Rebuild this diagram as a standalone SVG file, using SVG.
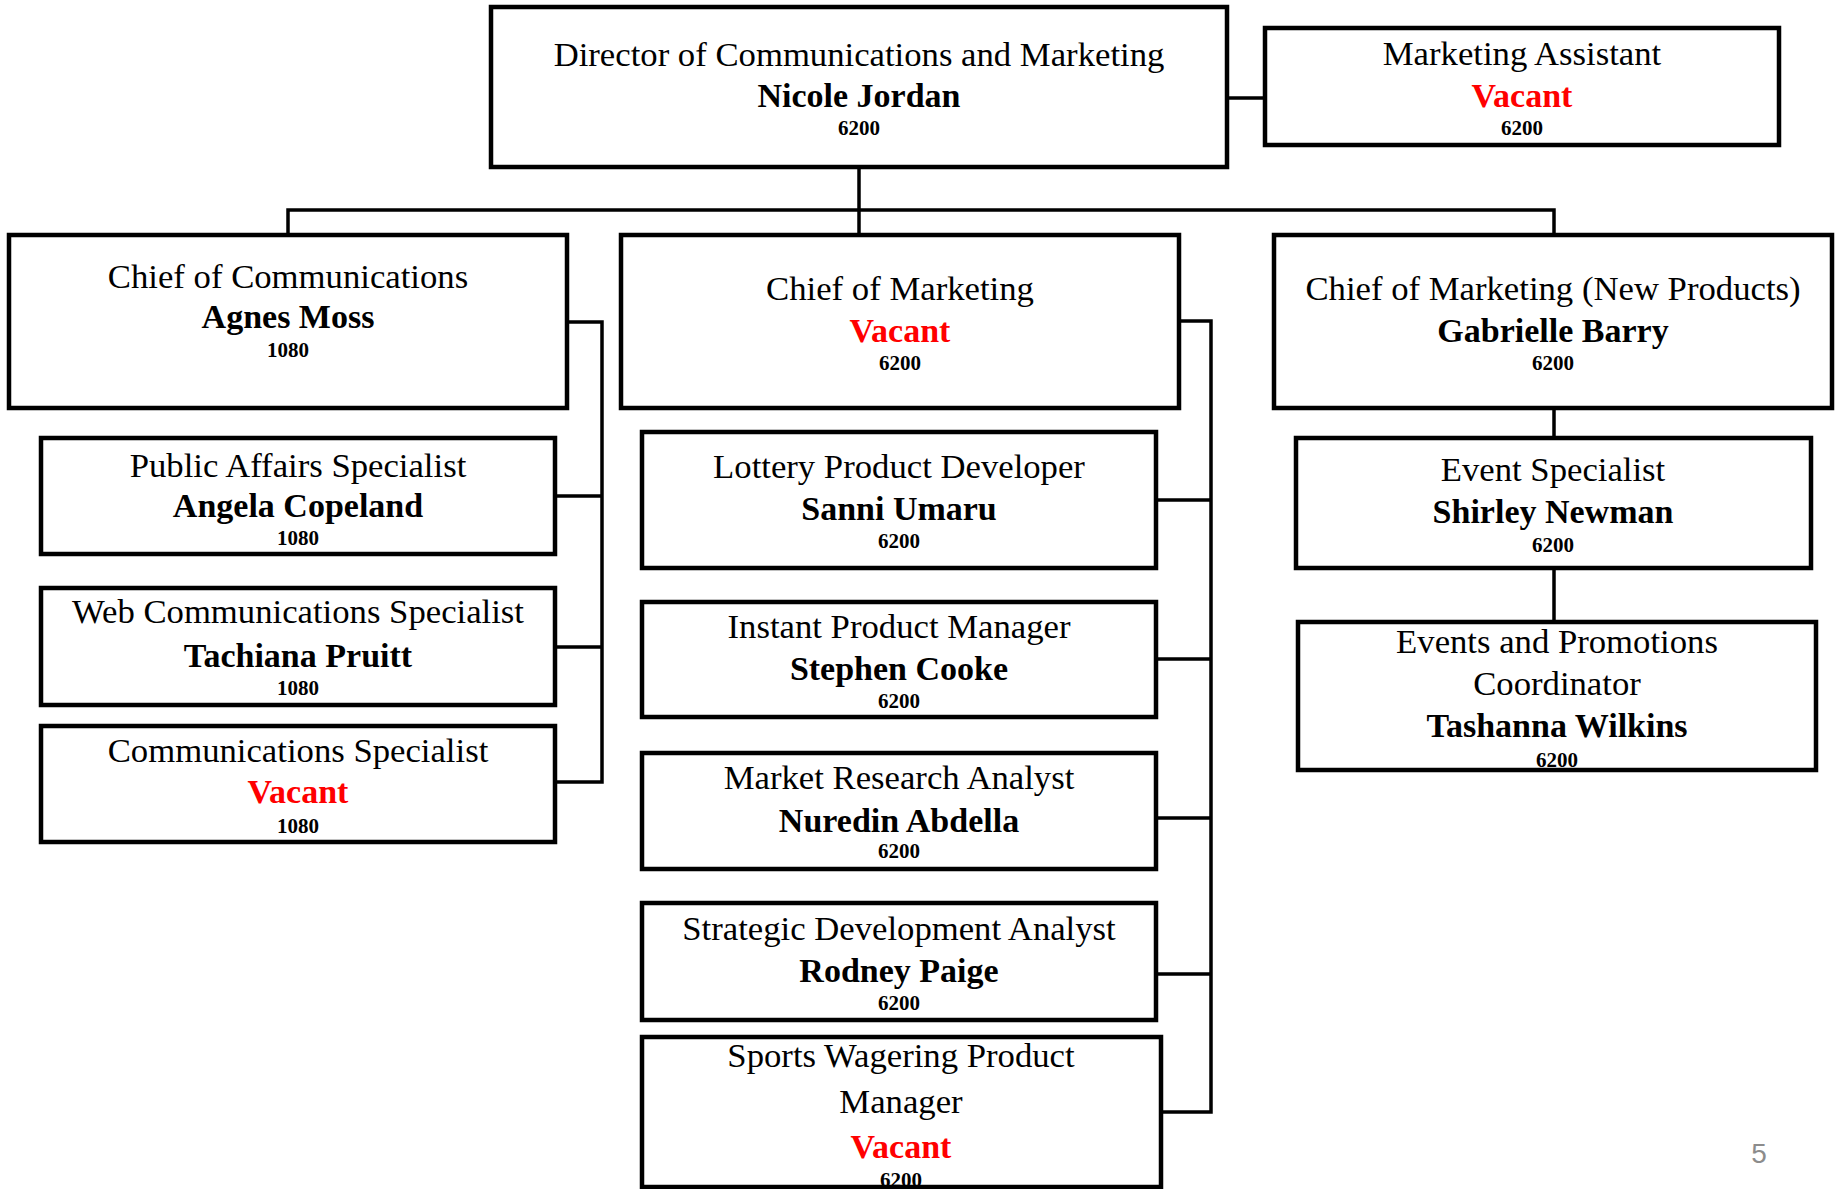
<svg xmlns="http://www.w3.org/2000/svg" width="1841" height="1189" viewBox="0 0 1841 1189">
<style>
.box{fill:#fff;stroke:#000;stroke-width:4.5}
.t{font-family:"Liberation Serif","Times New Roman",serif;font-size:34.7px;text-anchor:middle;fill:#000}
.n{font-family:"Liberation Serif","Times New Roman",serif;font-size:34px;font-weight:bold;text-anchor:middle;fill:#000}
.v{font-family:"Liberation Serif","Times New Roman",serif;font-size:34px;font-weight:bold;text-anchor:middle;fill:#ff0000}
.c{font-family:"Liberation Serif","Times New Roman",serif;font-size:21px;font-weight:bold;text-anchor:middle;fill:#000}
.ln{fill:none;stroke:#000;stroke-width:3.5}
.pg{font-family:"Liberation Sans",Arial,sans-serif;font-size:28px;fill:#8c8c8c;text-anchor:middle}
</style>
<rect width="1841" height="1189" fill="#fff"/>
<g id="connectors">
<path class="ln" d="M859,167V235"/>
<path class="ln" d="M288,235V210H1554V235"/>
<path class="ln" d="M1227,98H1265"/>
<path class="ln" d="M567,322H602V782H555M555,496H602M555,647H602"/>
<path class="ln" d="M1179,321H1211V1112H1161M1156,500H1211M1156,659H1211M1156,818H1211M1156,974H1211"/>
<path class="ln" d="M1554,408V438M1554,568V622"/>
</g>
<g id="director">
<rect class="box" x="491" y="7" width="736" height="160"/>
<text class="t" x="859" y="66">Director of Communications and Marketing</text>
<text class="n" x="859" y="107">Nicole Jordan</text>
<text class="c" x="859" y="135">6200</text>
</g>
<g id="marketing-assistant">
<rect class="box" x="1265" y="28" width="514" height="117"/>
<text class="t" x="1522" y="65">Marketing Assistant</text>
<text class="v" x="1522" y="107">Vacant</text>
<text class="c" x="1522" y="135">6200</text>
</g>
<g id="chief-communications">
<rect class="box" x="9" y="235" width="558" height="173"/>
<text class="t" x="288" y="288">Chief of Communications</text>
<text class="n" x="288" y="328">Agnes Moss</text>
<text class="c" x="288" y="357">1080</text>
</g>
<g id="chief-marketing">
<rect class="box" x="621" y="235" width="558" height="173"/>
<text class="t" x="900" y="300">Chief of Marketing</text>
<text class="v" x="900" y="342">Vacant</text>
<text class="c" x="900" y="370">6200</text>
</g>
<g id="chief-marketing-new-products">
<rect class="box" x="1274" y="235" width="558" height="173"/>
<text class="t" x="1553" y="300">Chief of Marketing (New Products)</text>
<text class="n" x="1553" y="342">Gabrielle Barry</text>
<text class="c" x="1553" y="370">6200</text>
</g>
<g id="public-affairs">
<rect class="box" x="41" y="438" width="514" height="116"/>
<text class="t" x="298" y="477">Public Affairs Specialist</text>
<text class="n" x="298" y="517">Angela Copeland</text>
<text class="c" x="298" y="545">1080</text>
</g>
<g id="web-communications">
<rect class="box" x="41" y="588" width="514" height="117"/>
<text class="t" x="298" y="623">Web Communications Specialist</text>
<text class="n" x="298" y="667">Tachiana Pruitt</text>
<text class="c" x="298" y="695">1080</text>
</g>
<g id="communications-specialist">
<rect class="box" x="41" y="726" width="514" height="116"/>
<text class="t" x="298" y="762">Communications Specialist</text>
<text class="v" x="298" y="803">Vacant</text>
<text class="c" x="298" y="833">1080</text>
</g>
<g id="lottery-product-developer">
<rect class="box" x="642" y="432" width="514" height="136"/>
<text class="t" x="899" y="478">Lottery Product Developer</text>
<text class="n" x="899" y="520">Sanni Umaru</text>
<text class="c" x="899" y="548">6200</text>
</g>
<g id="instant-product-manager">
<rect class="box" x="642" y="602" width="514" height="115"/>
<text class="t" x="899" y="638">Instant Product Manager</text>
<text class="n" x="899" y="680">Stephen Cooke</text>
<text class="c" x="899" y="708">6200</text>
</g>
<g id="market-research-analyst">
<rect class="box" x="642" y="753" width="514" height="116"/>
<text class="t" x="899" y="789">Market Research Analyst</text>
<text class="n" x="899" y="832">Nuredin Abdella</text>
<text class="c" x="899" y="858">6200</text>
</g>
<g id="strategic-development-analyst">
<rect class="box" x="642" y="903" width="514" height="117"/>
<text class="t" x="899" y="940">Strategic Development Analyst</text>
<text class="n" x="899" y="982">Rodney Paige</text>
<text class="c" x="899" y="1010">6200</text>
</g>
<g id="sports-wagering-product-manager">
<rect class="box" x="642" y="1037" width="519" height="150"/>
<text class="t" x="901" y="1067">Sports Wagering Product</text>
<text class="t" x="901" y="1113">Manager</text>
<text class="v" x="901" y="1158">Vacant</text>
<text class="c" x="901" y="1187">6200</text>
</g>
<g id="event-specialist">
<rect class="box" x="1296" y="438" width="515" height="130"/>
<text class="t" x="1553" y="481">Event Specialist</text>
<text class="n" x="1553" y="523">Shirley Newman</text>
<text class="c" x="1553" y="552">6200</text>
</g>
<g id="events-promotions-coordinator">
<rect class="box" x="1298" y="622" width="518" height="148"/>
<text class="t" x="1557" y="653">Events and Promotions</text>
<text class="t" x="1557" y="695">Coordinator</text>
<text class="n" x="1557" y="737">Tashanna Wilkins</text>
<text class="c" x="1557" y="767">6200</text>
</g>
<text class="pg" x="1759" y="1163">5</text>
</svg>
